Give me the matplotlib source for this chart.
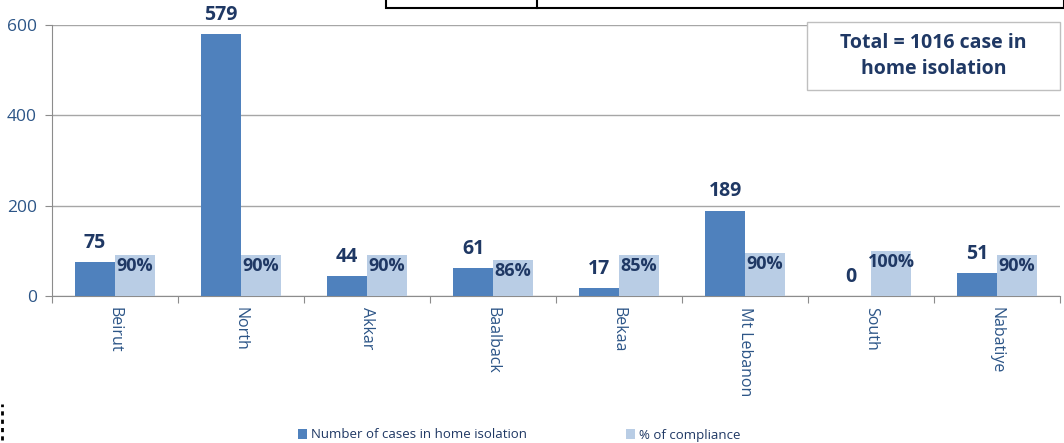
import matplotlib
matplotlib.use("Agg")
import matplotlib.pyplot as plt
import numpy as np
from matplotlib.patches import Rectangle

categories = ["Beirut", "North", "Akkar", "Baalback", "Bekaa", "Mt Lebanon", "South", "Nabatiye"]
cases = [75, 579, 44, 61, 17, 189, 0, 51]
compliance_bar = [90, 90, 90, 80, 90, 95, 100, 90]
compliance_labels = ["90%", "90%", "90%", "86%", "85%", "90%", "100%", "90%"]
yticks = [0, 200, 400, 600]

dark = "#4F81BD"
light = "#B9CDE5"
navy = "#1F3864"
tickc = "#2C5587"

plt.rcParams['font.family'] = ['Open Sans', 'DejaVu Sans']

fig = plt.figure(figsize=(10.64, 4.43), dpi=100)
ax = fig.add_axes([52/1064, 1-296/443, (1060-52)/1064, (296-25)/443])

x = np.arange(len(categories))
w = 0.317
b1 = ax.bar(x - w/2, cases, w, color=dark, label="Number of cases in home isolation", zorder=3)
b2 = ax.bar(x + w/2, compliance_bar, w, color=light, label="% of compliance", zorder=3)

for xi, v in zip(x, cases):
    ax.annotate(str(v), (xi - w/2, v), xytext=(0, 14), textcoords="offset points",
                ha="center", va="center", fontsize=14, fontweight="bold", color=navy)
for xi, v, lab in zip(x, compliance_bar, compliance_labels):
    ax.annotate(lab, (xi + w/2, v), xytext=(0, -8), textcoords="offset points",
                ha="center", va="center", fontsize=13, fontweight="bold", color=navy)

ax.set_xlim(-0.5, len(categories) - 0.5)
ax.set_ylim(0, 600)
ax.set_yticks(yticks)
ax.set_yticklabels([str(t) for t in yticks], fontsize=12.5, color=tickc)
ax.yaxis.grid(True, color="#A6A6A6", linewidth=1, zorder=0)
ax.tick_params(axis="y", length=5, color="#8C8C8C", pad=6)

ax.set_xticks(np.arange(-0.5, len(categories), 1.0))
ax.set_xticklabels([])
ax.tick_params(axis="x", length=5, color="#8C8C8C", direction="out")
for xi, c in zip(x, categories):
    ax.text(xi, -0.04, c, rotation=270, ha="center", va="top", transform=ax.get_xaxis_transform(),
            fontsize=11.5, color=tickc)

for s in ["top", "right"]:
    ax.spines[s].set_visible(False)
ax.spines["left"].set_color("#8C8C8C")
ax.spines["bottom"].set_color("#8C8C8C")

# text box
fig.patches.append(Rectangle((807/1064, 1-90/443), (1060-807)/1064, 68/443, transform=fig.transFigure,
                             facecolor="white", edgecolor="#BFBFBF", linewidth=1, zorder=5))
fig.text((807+1060)/2/1064, 1-56/443, "Total = 1016 case in\nhome isolation", ha="center", va="center",
         fontsize=14, fontweight="bold", color=navy, linespacing=1.35, zorder=6)

# slide artifacts
fig.patches.append(Rectangle((386/1064, 1-8/443), (1064-386)/1064, 10/443, transform=fig.transFigure,
                             facecolor="white", edgecolor="black", linewidth=1.5))
fig.lines.append(plt.Line2D([537/1064, 537/1064], [1-8/443, 1], transform=fig.transFigure, color="black", linewidth=1.5))
fig.lines.append(plt.Line2D([1.5/1064, 1.5/1064], [1-440/443, 1-404/443], transform=fig.transFigure,
                            color="black", linewidth=2, linestyle=(0, (1.5, 1.5))))

fig.legend(handles=[b1, b2], loc="center", bbox_to_anchor=(0.488, 1-435/443), ncol=2, frameon=False,
           fontsize=9.5, handlelength=0.7, handleheight=0.7, columnspacing=7.5, handletextpad=0.3,
           labelcolor="#1F3864")

fig.savefig("out.png", dpi=100)
